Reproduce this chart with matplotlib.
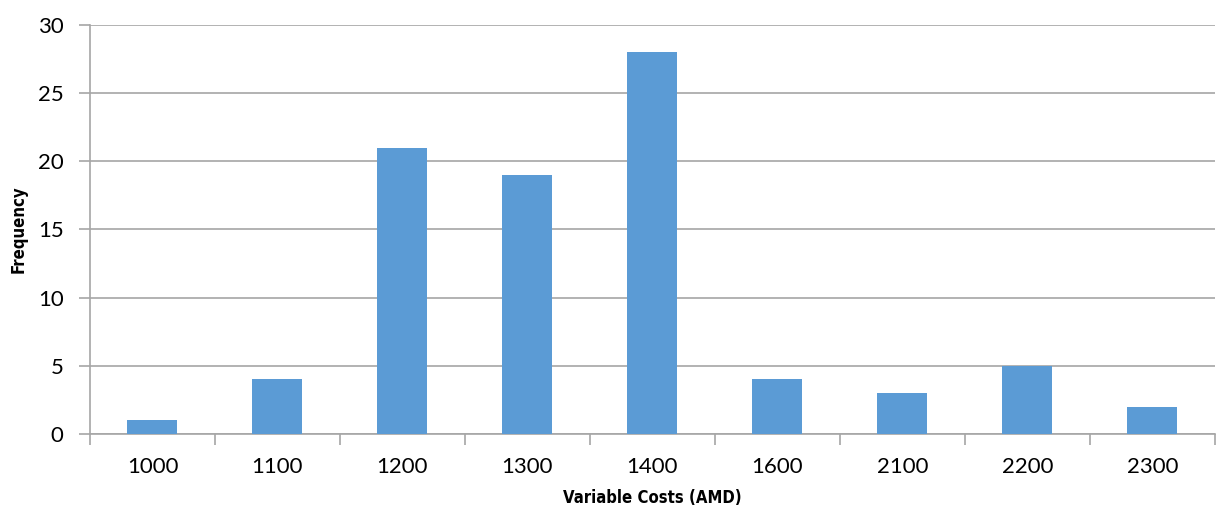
import matplotlib
matplotlib.use("Agg")
import matplotlib.pyplot as plt
import numpy as np

categories = ["1000", "1100", "1200", "1300", "1400", "1600", "2100", "2200", "2300"]
frequency = [1, 4, 21, 19, 28, 4, 3, 5, 2]

bar_color = "#5B9BD5"
grid_color = "#A6A6A6"
label_font = ["DejaVu Sans"]

fig = plt.figure(figsize=(12.16, 5.08), dpi=100)
ax = fig.add_axes([0.074, 0.146, 0.925, 0.805])

x = np.arange(len(categories))
ax.bar(x, frequency, width=0.4, color=bar_color, zorder=3)

ax.set_xlim(-0.5, len(categories) - 0.5)
ax.set_ylim(0, 30)
ax.set_yticks(range(0, 31, 5))
ax.yaxis.grid(True, color=grid_color, linewidth=1.2, zorder=0)

# category labels centred, tick marks on the boundaries
ax.set_xticks(x)
ax.set_xticklabels(categories, fontfamily="Lato", fontsize=16)
ax.set_xticks(np.arange(-0.5, len(categories), 1), minor=True)
ax.tick_params(axis="x", which="major", length=0, pad=17)
ax.tick_params(axis="x", which="minor", length=8, color=grid_color, width=1.2)
ax.tick_params(axis="y", length=8, color=grid_color, width=1.2, pad=11)
for lbl in ax.get_yticklabels():
    lbl.set_fontfamily("Lato")
    lbl.set_fontsize(16)

for s in ["top", "right"]:
    ax.spines[s].set_visible(False)
ax.spines["left"].set_color(grid_color)
ax.spines["bottom"].set_color(grid_color)
ax.spines["left"].set_linewidth(1.2)
ax.spines["bottom"].set_linewidth(1.2)

ax.set_xlabel("Variable Costs (AMD)", fontfamily=label_font, fontstretch="condensed",
              fontweight="bold", fontsize=12, labelpad=8)
ax.set_ylabel("Frequency", fontfamily=label_font, fontstretch="condensed",
              fontweight="bold", fontsize=12, labelpad=7)

fig.savefig("out.png", dpi=100)
